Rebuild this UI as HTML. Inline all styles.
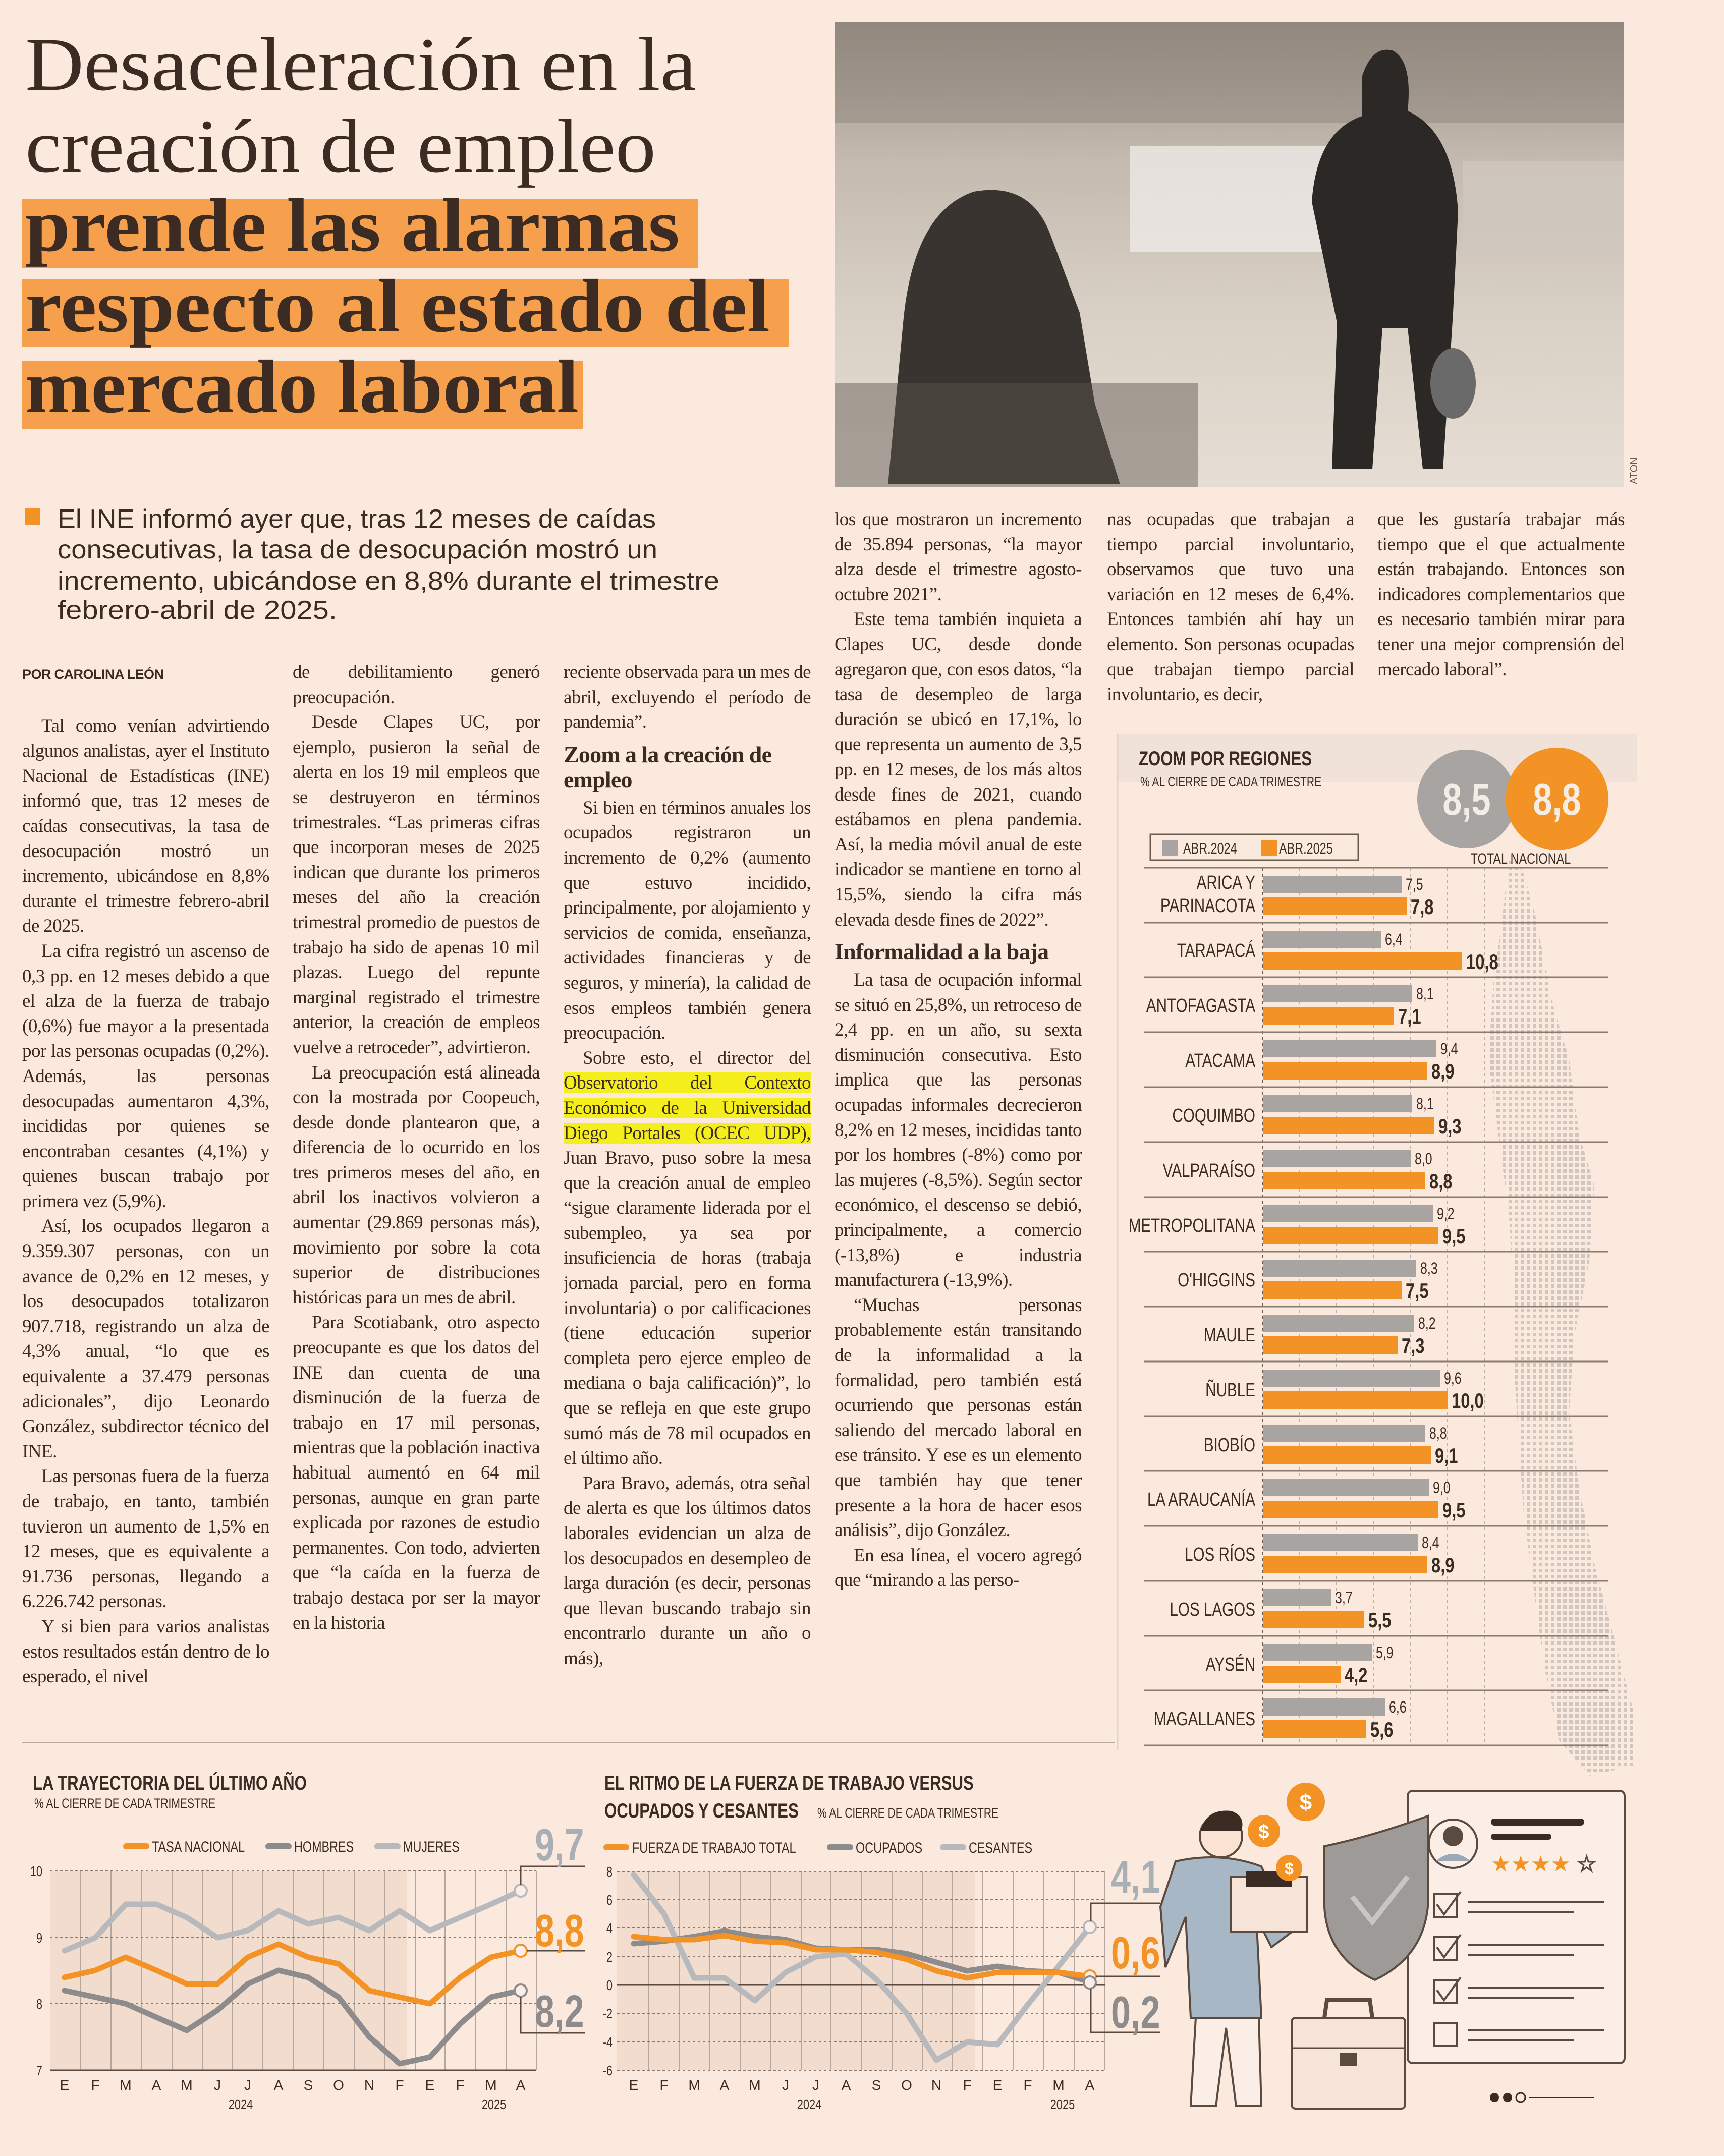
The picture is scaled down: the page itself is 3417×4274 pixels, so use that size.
<!DOCTYPE html>
<html lang="es"><head><meta charset="utf-8">
<style>
html,body{margin:0;padding:0;}
body{width:3417px;height:4274px;position:relative;background:#fce9dd;overflow:hidden;font-family:"Liberation Serif",serif;color:#3a2a22;}
svg.page{position:absolute;left:0;top:0;}
.col{position:absolute;width:490px;font-family:"Liberation Serif",serif;font-size:37px;line-height:49.6px;text-align:justify;color:#3a2a22;overflow:hidden;letter-spacing:-0.5px;word-spacing:-0.5px;hyphens:auto;-webkit-hyphens:auto;}
.col p{margin:0;text-indent:38px;}
.col p.ni{text-indent:0;}
.col h3{margin:14px 0 6px 0;font-size:46px;line-height:50px;font-weight:bold;text-align:left;letter-spacing:-0.8px;}
.by{font-family:"Liberation Sans",sans-serif;font-weight:bold;font-size:27px;letter-spacing:-0.5px;}
.hl{background:#f4ef1c;}
.cl{transform-box:fill-box;transform-origin:left center;transform:scaleX(.78);}
.cr{transform-box:fill-box;transform-origin:right center;transform:scaleX(.78);}
.cc{transform-box:fill-box;transform-origin:center;transform:scaleX(.78);}
</style></head><body>
<svg class="page" width="3417" height="4274" viewBox="0 0 3417 4274" xmlns="http://www.w3.org/2000/svg">
<defs>
<linearGradient id="ph" x1="0" y1="0" x2="0" y2="1">
<stop offset="0" stop-color="#9c9288"/><stop offset=".3" stop-color="#c4bab0"/><stop offset=".6" stop-color="#d8cfc4"/><stop offset="1" stop-color="#e6ded4"/></linearGradient>
<pattern id="dots" width="12" height="12" patternUnits="userSpaceOnUse"><rect x="2" y="2" width="7" height="7" fill="#cfc6c0"/></pattern>
</defs>
<rect x="44" y="394" width="1340" height="137" fill="#f6a04d"/>
<rect x="44" y="554" width="1519" height="134" fill="#f6a04d"/>
<rect x="44" y="715" width="1112" height="135" fill="#f6a04d"/>
<g font-family="Liberation Serif, serif" fill="#3b2b22" font-size="150">
<text x="50" y="178" textLength="1330" lengthAdjust="spacingAndGlyphs">Desaceleración en la</text>
<text x="50" y="340" textLength="1250" lengthAdjust="spacingAndGlyphs">creación de empleo</text>
<text x="50" y="497" font-weight="bold" textLength="1297" lengthAdjust="spacingAndGlyphs">prende las alarmas</text>
<text x="50" y="657" font-weight="bold" textLength="1476" lengthAdjust="spacingAndGlyphs">respecto al estado del</text>
<text x="50" y="817" font-weight="bold" textLength="1097" lengthAdjust="spacingAndGlyphs">mercado laboral</text>
</g>
<rect x="50" y="1008" width="30" height="32" fill="#f39325"/>
<g font-family="Liberation Sans, sans-serif" fill="#3b2b22" font-size="52">
<text x="114" y="1046" textLength="1186" lengthAdjust="spacingAndGlyphs">El INE informó ayer que, tras 12 meses de caídas</text>
<text x="114" y="1107" textLength="1189" lengthAdjust="spacingAndGlyphs">consecutivas, la tasa de desocupación mostró un</text>
<text x="114" y="1169" textLength="1312" lengthAdjust="spacingAndGlyphs">incremento, ubicándose en 8,8% durante el trimestre</text>
<text x="114" y="1227" textLength="554" lengthAdjust="spacingAndGlyphs">febrero-abril de 2025.</text>
</g>
<rect x="1654" y="44" width="1564" height="921" fill="url(#ph)"/>
<rect x="1654" y="44" width="1564" height="200" fill="#7e766e" opacity=".35"/>
<rect x="2240" y="290" width="420" height="210" fill="#eeeae6" opacity=".8"/>
<rect x="2900" y="320" width="318" height="180" fill="#cfc7be" opacity=".8"/>
<path d="M1760 960 L1790 640 Q1810 420 1930 380 Q2040 360 2080 460 L2140 620 L2170 800 L2220 960 Z" fill="#3a3430"/>
<rect x="1654" y="760" width="720" height="205" fill="#5a544e" opacity=".45"/>
<path d="M2640 930 L2650 640 L2600 400 Q2610 260 2700 230 L2700 150 Q2720 90 2760 100 Q2800 120 2790 220 Q2880 260 2890 420 L2880 620 L2860 930 L2820 930 L2790 650 L2740 650 L2720 930 Z" fill="#2b2826"/>
<ellipse cx="2880" cy="760" rx="45" ry="70" fill="#6a6a6a"/>
<text x="3245" y="960" font-family="Liberation Sans, sans-serif" font-size="20" fill="#6a5c52" transform="rotate(-90 3245 960)">ATON</text>
<line x1="44" y1="3455" x2="2210" y2="3455" stroke="#b9aaa0" stroke-width="2"/>
<rect x="2215" y="1455" width="1030" height="95" fill="#f0e2d8"/>
<line x1="2215" y1="1455" x2="2215" y2="3470" stroke="#e2d3c9" stroke-width="3"/>
<polygon points="2990,1700 3010,1700 3040,1800 3060,1900 3080,2000 3110,2100 3130,2250 3160,2350 3150,2500 3120,2650 3110,2800 3130,2950 3160,3100 3200,3250 3240,3400 3240,3500 3150,3520 3090,3450 3060,3300 3040,3150 3020,3000 3010,2850 3000,2700 3000,2550 2990,2400 2970,2250 2950,2100 2960,1950 2980,1800" fill="url(#dots)"/>
<g font-family="Liberation Sans, sans-serif" fill="#3b2b22">
<text x="2257" y="1517" font-size="40" font-weight="bold" class="cl">ZOOM POR REGIONES</text>
<text x="2260" y="1559" font-size="27" class="cl">% AL CIERRE DE CADA TRIMESTRE</text>
</g>
<circle cx="2907" cy="1584" r="98" fill="#a8a4a1"/>
<circle cx="3086" cy="1584" r="102" fill="#f39325"/>
<g font-family="Liberation Sans, sans-serif" font-weight="bold" fill="#f4ede6" font-size="88" text-anchor="middle">
<text x="2907" y="1615" class="cc">8,5</text><text x="3086" y="1615" class="cc">8,8</text></g>
<text x="3014" y="1712" font-family="Liberation Sans, sans-serif" font-size="30" fill="#3b2b22" text-anchor="middle" class="cc">TOTAL NACIONAL</text>
<rect x="2280" y="1654" width="412" height="51" fill="none" stroke="#6c5d53" stroke-width="3"/>
<rect x="2303" y="1665" width="32" height="32" fill="#a8a4a1"/>
<rect x="2500" y="1665" width="32" height="32" fill="#f39325"/>
<g font-family="Liberation Sans, sans-serif" font-size="30" fill="#3b2b22"><text x="2345" y="1692" class="cl">ABR.2024</text><text x="2535" y="1692" class="cl">ABR.2025</text></g>
<g stroke="#bdb1a8" stroke-width="2" stroke-dasharray="6,6">
<line x1="2576" y1="1720" x2="2576" y2="3460"/><line x1="2649" y1="1720" x2="2649" y2="3460"/><line x1="2722" y1="1720" x2="2722" y2="3460"/><line x1="2796" y1="1720" x2="2796" y2="3460"/><line x1="2869" y1="1720" x2="2869" y2="3460"/><line x1="2942" y1="1720" x2="2942" y2="3460"/>
</g>
<line x1="2503" y1="1720" x2="2503" y2="3460" stroke="#6c5d53" stroke-width="2" stroke-dasharray="6,6"/>
<g stroke="#8a7a70" stroke-width="3">
<line x1="2267" y1="1720" x2="3188" y2="1720"/><line x1="2267" y1="1829" x2="3188" y2="1829"/><line x1="2267" y1="1937" x2="3188" y2="1937"/><line x1="2267" y1="2046" x2="3188" y2="2046"/><line x1="2267" y1="2155" x2="3188" y2="2155"/><line x1="2267" y1="2264" x2="3188" y2="2264"/><line x1="2267" y1="2373" x2="3188" y2="2373"/><line x1="2267" y1="2481" x2="3188" y2="2481"/><line x1="2267" y1="2590" x2="3188" y2="2590"/><line x1="2267" y1="2699" x2="3188" y2="2699"/><line x1="2267" y1="2808" x2="3188" y2="2808"/><line x1="2267" y1="2916" x2="3188" y2="2916"/><line x1="2267" y1="3025" x2="3188" y2="3025"/><line x1="2267" y1="3134" x2="3188" y2="3134"/><line x1="2267" y1="3243" x2="3188" y2="3243"/><line x1="2267" y1="3351" x2="3188" y2="3351"/><line x1="2267" y1="3460" x2="3188" y2="3460"/>
</g>
<g font-family="Liberation Sans, sans-serif" fill="#3b2b22">
<g><rect x="2503" y="1736" width="275" height="34" fill="#a8a4a1"/><rect x="2503" y="1779" width="285" height="35" fill="#f39325"/>
<text x="2488" y="1762" font-size="38" text-anchor="end" class="cr">ARICA Y</text><text x="2488" y="1808" font-size="38" text-anchor="end" class="cr">PARINACOTA</text>
<text x="2786" y="1764" font-size="32" class="cl">7,5</text><text x="2796" y="1812" font-size="42" font-weight="bold" class="cl">7,8</text></g>
<g><rect x="2503" y="1845" width="234" height="34" fill="#a8a4a1"/><rect x="2503" y="1888" width="395" height="35" fill="#f39325"/>
<text x="2488" y="1897" font-size="38" text-anchor="end" class="cr">TARAPACÁ</text>
<text x="2745" y="1873" font-size="32" class="cl">6,4</text><text x="2906" y="1921" font-size="42" font-weight="bold" class="cl">10,8</text></g>
<g><rect x="2503" y="1953" width="296" height="34" fill="#a8a4a1"/><rect x="2503" y="1996" width="260" height="35" fill="#f39325"/>
<text x="2488" y="2006" font-size="38" text-anchor="end" class="cr">ANTOFAGASTA</text>
<text x="2807" y="1981" font-size="32" class="cl">8,1</text><text x="2771" y="2029" font-size="42" font-weight="bold" class="cl">7,1</text></g>
<g><rect x="2503" y="2062" width="344" height="34" fill="#a8a4a1"/><rect x="2503" y="2105" width="326" height="35" fill="#f39325"/>
<text x="2488" y="2115" font-size="38" text-anchor="end" class="cr">ATACAMA</text>
<text x="2855" y="2090" font-size="32" class="cl">9,4</text><text x="2837" y="2138" font-size="42" font-weight="bold" class="cl">8,9</text></g>
<g><rect x="2503" y="2171" width="296" height="34" fill="#a8a4a1"/><rect x="2503" y="2214" width="340" height="35" fill="#f39325"/>
<text x="2488" y="2224" font-size="38" text-anchor="end" class="cr">COQUIMBO</text>
<text x="2807" y="2199" font-size="32" class="cl">8,1</text><text x="2851" y="2247" font-size="42" font-weight="bold" class="cl">9,3</text></g>
<g><rect x="2503" y="2280" width="293" height="34" fill="#a8a4a1"/><rect x="2503" y="2323" width="322" height="35" fill="#f39325"/>
<text x="2488" y="2333" font-size="38" text-anchor="end" class="cr">VALPARAÍSO</text>
<text x="2804" y="2308" font-size="32" class="cl">8,0</text><text x="2833" y="2356" font-size="42" font-weight="bold" class="cl">8,8</text></g>
<g><rect x="2503" y="2389" width="337" height="34" fill="#a8a4a1"/><rect x="2503" y="2432" width="348" height="35" fill="#f39325"/>
<text x="2488" y="2442" font-size="38" text-anchor="end" class="cr">METROPOLITANA</text>
<text x="2848" y="2417" font-size="32" class="cl">9,2</text><text x="2859" y="2465" font-size="42" font-weight="bold" class="cl">9,5</text></g>
<g><rect x="2503" y="2497" width="304" height="34" fill="#a8a4a1"/><rect x="2503" y="2540" width="275" height="35" fill="#f39325"/>
<text x="2488" y="2550" font-size="38" text-anchor="end" class="cr">O'HIGGINS</text>
<text x="2815" y="2525" font-size="32" class="cl">8,3</text><text x="2786" y="2573" font-size="42" font-weight="bold" class="cl">7,5</text></g>
<g><rect x="2503" y="2606" width="300" height="34" fill="#a8a4a1"/><rect x="2503" y="2649" width="267" height="35" fill="#f39325"/>
<text x="2488" y="2659" font-size="38" text-anchor="end" class="cr">MAULE</text>
<text x="2811" y="2634" font-size="32" class="cl">8,2</text><text x="2778" y="2682" font-size="42" font-weight="bold" class="cl">7,3</text></g>
<g><rect x="2503" y="2715" width="351" height="34" fill="#a8a4a1"/><rect x="2503" y="2758" width="366" height="35" fill="#f39325"/>
<text x="2488" y="2768" font-size="38" text-anchor="end" class="cr">ÑUBLE</text>
<text x="2862" y="2743" font-size="32" class="cl">9,6</text><text x="2877" y="2791" font-size="42" font-weight="bold" class="cl">10,0</text></g>
<g><rect x="2503" y="2824" width="322" height="34" fill="#a8a4a1"/><rect x="2503" y="2867" width="333" height="35" fill="#f39325"/>
<text x="2488" y="2877" font-size="38" text-anchor="end" class="cr">BIOBÍO</text>
<text x="2833" y="2852" font-size="32" class="cl">8,8</text><text x="2844" y="2900" font-size="42" font-weight="bold" class="cl">9,1</text></g>
<g><rect x="2503" y="2932" width="329" height="34" fill="#a8a4a1"/><rect x="2503" y="2975" width="348" height="35" fill="#f39325"/>
<text x="2488" y="2985" font-size="38" text-anchor="end" class="cr">LA ARAUCANÍA</text>
<text x="2840" y="2960" font-size="32" class="cl">9,0</text><text x="2859" y="3008" font-size="42" font-weight="bold" class="cl">9,5</text></g>
<g><rect x="2503" y="3041" width="307" height="34" fill="#a8a4a1"/><rect x="2503" y="3084" width="326" height="35" fill="#f39325"/>
<text x="2488" y="3094" font-size="38" text-anchor="end" class="cr">LOS RÍOS</text>
<text x="2818" y="3069" font-size="32" class="cl">8,4</text><text x="2837" y="3117" font-size="42" font-weight="bold" class="cl">8,9</text></g>
<g><rect x="2503" y="3150" width="135" height="34" fill="#a8a4a1"/><rect x="2503" y="3193" width="201" height="35" fill="#f39325"/>
<text x="2488" y="3203" font-size="38" text-anchor="end" class="cr">LOS LAGOS</text>
<text x="2646" y="3178" font-size="32" class="cl">3,7</text><text x="2712" y="3226" font-size="42" font-weight="bold" class="cl">5,5</text></g>
<g><rect x="2503" y="3259" width="216" height="34" fill="#a8a4a1"/><rect x="2503" y="3302" width="154" height="35" fill="#f39325"/>
<text x="2488" y="3312" font-size="38" text-anchor="end" class="cr">AYSÉN</text>
<text x="2727" y="3287" font-size="32" class="cl">5,9</text><text x="2665" y="3335" font-size="42" font-weight="bold" class="cl">4,2</text></g>
<g><rect x="2503" y="3367" width="242" height="34" fill="#a8a4a1"/><rect x="2503" y="3410" width="205" height="35" fill="#f39325"/>
<text x="2488" y="3420" font-size="38" text-anchor="end" class="cr">MAGALLANES</text>
<text x="2753" y="3395" font-size="32" class="cl">6,6</text><text x="2716" y="3443" font-size="42" font-weight="bold" class="cl">5,6</text></g>
</g>

<g font-family="Liberation Sans, sans-serif" fill="#3b2b22">
<text x="65" y="3548" font-size="40" font-weight="bold" class="cl">LA TRAYECTORIA DEL ÚLTIMO AÑO</text>
<text x="68" y="3584" font-size="27" class="cl">% AL CIERRE DE CADA TRIMESTRE</text>
<line x1="250" y1="3660" x2="290" y2="3660" stroke="#f39325" stroke-width="12" stroke-linecap="round"/>
<text x="301" y="3671" font-size="30" class="cl">TASA NACIONAL</text>
<line x1="532" y1="3660" x2="572" y2="3660" stroke="#8d8b8b" stroke-width="12" stroke-linecap="round"/>
<text x="583" y="3671" font-size="30" class="cl">HOMBRES</text>
<line x1="748" y1="3660" x2="788" y2="3660" stroke="#b7b9bc" stroke-width="12" stroke-linecap="round"/>
<text x="799" y="3671" font-size="30" class="cl">MUJERES</text>
</g>
<rect x="99" y="3709" width="708" height="395" fill="#f2dccd"/>
<g stroke="#b5a79e" stroke-width="2">
<line x1="159" y1="3709" x2="159" y2="4104"/><line x1="220" y1="3709" x2="220" y2="4104"/><line x1="281" y1="3709" x2="281" y2="4104"/><line x1="341" y1="3709" x2="341" y2="4104"/><line x1="401" y1="3709" x2="401" y2="4104"/><line x1="461" y1="3709" x2="461" y2="4104"/><line x1="521" y1="3709" x2="521" y2="4104"/><line x1="582" y1="3709" x2="582" y2="4104"/><line x1="642" y1="3709" x2="642" y2="4104"/><line x1="702" y1="3709" x2="702" y2="4104"/><line x1="763" y1="3709" x2="763" y2="4104"/><line x1="823" y1="3709" x2="823" y2="4104"/><line x1="882" y1="3709" x2="882" y2="4104"/><line x1="942" y1="3709" x2="942" y2="4104"/><line x1="1003" y1="3709" x2="1003" y2="4104"/><line x1="1063" y1="3709" x2="1063" y2="4104"/>
</g>
<g stroke="#8a7a70" stroke-width="2" stroke-dasharray="5,5">
<line x1="99" y1="3709" x2="1063" y2="3709"/><line x1="99" y1="3841" x2="1063" y2="3841"/><line x1="99" y1="3972" x2="1063" y2="3972"/></g>
<line x1="99" y1="4104" x2="1063" y2="4104" stroke="#5a4a40" stroke-width="3"/>
<g fill="none" stroke-width="11" stroke-linejoin="round" stroke-linecap="round">
<polyline stroke="#b7b9bc" points="128,3867 189,3841 249,3775 310,3775 370,3801 431,3841 491,3827 552,3788 611,3814 671,3801 732,3827 792,3788 852,3827 912,3801 973,3775 1032,3748"/>
<polyline stroke="#f39325" points="128,3920 189,3906 249,3880 310,3906 370,3933 431,3933 491,3880 552,3854 611,3880 671,3893 732,3946 792,3959 852,3972 912,3920 973,3880 1032,3867"/>
<polyline stroke="#8d8b8b" points="128,3946 189,3959 249,3972 310,3999 370,4025 431,3985 491,3933 552,3906 611,3920 671,3959 732,4038 792,4091 852,4078 912,4012 973,3959 1032,3946"/>
</g>
<g fill="#fbeee6" stroke-width="4"><circle cx="1032" cy="3748" r="12" stroke="#b7b9bc"/><circle cx="1032" cy="3867" r="12" stroke="#f39325"/><circle cx="1032" cy="3946" r="12" stroke="#8d8b8b"/></g>
<g fill="none" stroke="#5a4a40" stroke-width="3"><polyline points="1032,3736 1032,3700 1160,3700"/><polyline points="1044,3867 1160,3867"/><polyline points="1032,3958 1032,4030 1160,4030"/></g>
<g font-family="Liberation Sans, sans-serif" font-weight="bold" font-size="90">
<text x="1060" y="3688" fill="#a9b0b5" class="cl">9,7</text>
<text x="1060" y="3858" fill="#f39325" class="cl">8,8</text>
<text x="1060" y="4018" fill="#8d8b8b" class="cl">8,2</text></g>
<g font-family="Liberation Sans, sans-serif" font-size="28" fill="#3b2b22">
<text x="84" y="3719" text-anchor="end" class="cr">10</text><text x="84" y="3851" text-anchor="end" class="cr">9</text><text x="84" y="3982" text-anchor="end" class="cr">8</text><text x="84" y="4114" text-anchor="end" class="cr">7</text>
<g text-anchor="middle"><text x="128" y="4143">E</text><text x="189" y="4143">F</text><text x="249" y="4143">M</text><text x="310" y="4143">A</text><text x="370" y="4143">M</text><text x="431" y="4143">J</text><text x="491" y="4143">J</text><text x="552" y="4143">A</text><text x="611" y="4143">S</text><text x="671" y="4143">O</text><text x="732" y="4143">N</text><text x="792" y="4143">F</text><text x="852" y="4143">E</text><text x="912" y="4143">F</text><text x="973" y="4143">M</text><text x="1032" y="4143">A</text>
<text x="477" y="4181" class="cc">2024</text><text x="979" y="4181" class="cc">2025</text></g>
</g>

<g font-family="Liberation Sans, sans-serif" fill="#3b2b22">
<text x="1198" y="3548" font-size="40" font-weight="bold" class="cl">EL RITMO DE LA FUERZA DE TRABAJO VERSUS</text>
<text x="1198" y="3603" font-size="40" font-weight="bold" class="cl">OCUPADOS Y CESANTES</text>
<text x="1620" y="3603" font-size="27" class="cl">% AL CIERRE DE CADA TRIMESTRE</text>
<line x1="1202" y1="3662" x2="1241" y2="3662" stroke="#f39325" stroke-width="12" stroke-linecap="round"/>
<text x="1253" y="3673" font-size="30" class="cl">FUERZA DE TRABAJO TOTAL</text>
<line x1="1645" y1="3662" x2="1685" y2="3662" stroke="#8d8b8b" stroke-width="12" stroke-linecap="round"/>
<text x="1696" y="3673" font-size="30" class="cl">OCUPADOS</text>
<line x1="1869" y1="3662" x2="1909" y2="3662" stroke="#b7b9bc" stroke-width="12" stroke-linecap="round"/>
<text x="1920" y="3673" font-size="30" class="cl">CESANTES</text>
</g>
<rect x="1223" y="3710" width="710" height="394" fill="#f2dccd"/>
<g stroke="#b5a79e" stroke-width="2">
<line x1="1286" y1="3710" x2="1286" y2="4104"/><line x1="1347" y1="3710" x2="1347" y2="4104"/><line x1="1407" y1="3710" x2="1407" y2="4104"/><line x1="1467" y1="3710" x2="1467" y2="4104"/><line x1="1528" y1="3710" x2="1528" y2="4104"/><line x1="1588" y1="3710" x2="1588" y2="4104"/><line x1="1647" y1="3710" x2="1647" y2="4104"/><line x1="1707" y1="3710" x2="1707" y2="4104"/><line x1="1768" y1="3710" x2="1768" y2="4104"/><line x1="1828" y1="3710" x2="1828" y2="4104"/><line x1="1888" y1="3710" x2="1888" y2="4104"/><line x1="1948" y1="3710" x2="1948" y2="4104"/><line x1="2008" y1="3710" x2="2008" y2="4104"/><line x1="2068" y1="3710" x2="2068" y2="4104"/><line x1="2129" y1="3710" x2="2129" y2="4104"/><line x1="2190" y1="3710" x2="2190" y2="4104"/>
</g>
<g stroke="#8a7a70" stroke-width="2" stroke-dasharray="5,5">
<line x1="1223" y1="3710" x2="2190" y2="3710"/><line x1="1223" y1="3766" x2="2190" y2="3766"/><line x1="1223" y1="3822" x2="2190" y2="3822"/><line x1="1223" y1="3879" x2="2190" y2="3879"/><line x1="1223" y1="3991" x2="2190" y2="3991"/><line x1="1223" y1="4048" x2="2190" y2="4048"/><line x1="1223" y1="4104" x2="2190" y2="4104"/></g>
<line x1="1223" y1="3935" x2="2190" y2="3935" stroke="#5a4a40" stroke-width="3"/>
<g fill="none" stroke-width="11" stroke-linejoin="round" stroke-linecap="round">
<polyline stroke="#b7b9bc" points="1256,3716 1316,3794 1376,3921 1436,3921 1496,3966 1557,3910 1617,3879 1677,3873 1737,3924 1797,3991 1856,4084 1917,4048 1977,4053 2037,3974 2098,3898 2160,3820"/>
<polyline stroke="#8d8b8b" points="1256,3853 1316,3848 1376,3839 1436,3828 1496,3839 1557,3845 1617,3862 1677,3865 1737,3865 1797,3873 1856,3890 1917,3907 1977,3898 2037,3907 2098,3910 2160,3929"/>
<polyline stroke="#f39325" points="1256,3839 1316,3845 1376,3845 1436,3837 1496,3848 1557,3851 1617,3865 1677,3865 1737,3870 1797,3884 1856,3907 1917,3921 1977,3910 2037,3910 2098,3910 2160,3918"/>
</g>
<g fill="#fbeee6" stroke-width="4"><circle cx="2160" cy="3820" r="12" stroke="#b7b9bc"/><circle cx="2160" cy="3918" r="12" stroke="#f39325"/><circle cx="2160" cy="3930" r="12" stroke="#8d8b8b"/></g>
<g fill="none" stroke="#5a4a40" stroke-width="3"><polyline points="2162,3808 2162,3773 2300,3773"/><polyline points="2172,3918 2300,3918"/><polyline points="2162,3942 2162,4029 2300,4029"/></g>
<g font-family="Liberation Sans, sans-serif" font-weight="bold" font-size="90">
<text x="2202" y="3752" fill="#a9b0b5" class="cl">4,1</text>
<text x="2202" y="3902" fill="#f39325" class="cl">0,6</text>
<text x="2202" y="4020" fill="#8d8b8b" class="cl">0,2</text></g>
<g font-family="Liberation Sans, sans-serif" font-size="28" fill="#3b2b22">
<g text-anchor="end"><text x="1214" y="3720" class="cr">8</text><text x="1214" y="3776" class="cr">6</text><text x="1214" y="3832" class="cr">4</text><text x="1214" y="3889" class="cr">2</text><text x="1214" y="3945" class="cr">0</text><text x="1214" y="4001" class="cr">-2</text><text x="1214" y="4058" class="cr">-4</text><text x="1214" y="4114" class="cr">-6</text></g>
<g text-anchor="middle"><text x="1256" y="4143">E</text><text x="1316" y="4143">F</text><text x="1376" y="4143">M</text><text x="1436" y="4143">A</text><text x="1496" y="4143">M</text><text x="1557" y="4143">J</text><text x="1617" y="4143">J</text><text x="1677" y="4143">A</text><text x="1737" y="4143">S</text><text x="1797" y="4143">O</text><text x="1856" y="4143">N</text><text x="1917" y="4143">F</text><text x="1977" y="4143">E</text><text x="2037" y="4143">F</text><text x="2098" y="4143">M</text><text x="2160" y="4143">A</text>
<text x="1604" y="4181" class="cc">2024</text><text x="2106" y="4181" class="cc">2025</text></g>
</g>

<rect x="2790" y="3550" width="430" height="540" rx="10" fill="#fbeee6" stroke="#5a4a40" stroke-width="4"/>
<circle cx="2880" cy="3655" r="48" fill="#fbeee6" stroke="#5a4a40" stroke-width="4"/>
<circle cx="2880" cy="3640" r="20" fill="#5a4a40"/>
<path d="M2845 3690 Q2880 3660 2915 3690" fill="#9aa9b8"/>
<rect x="2955" y="3605" width="185" height="14" rx="7" fill="#3b2b22"/>
<rect x="2955" y="3635" width="120" height="12" rx="6" fill="#3b2b22"/>
<g fill="#f39325" font-family="DejaVu Sans, sans-serif" font-size="44"><text x="2955" y="3710">★★★★</text><text x="3125" y="3710" fill="none" stroke="#5a4a40" stroke-width="2">☆</text></g>
<g fill="none" stroke="#5a4a40" stroke-width="4">
<rect x="2843" y="3755" width="45" height="45"/><rect x="2843" y="3840" width="45" height="45"/><rect x="2843" y="3925" width="45" height="45"/><rect x="2843" y="4010" width="45" height="45"/>
<polyline points="2848,3775 2862,3795 2895,3750"/><polyline points="2848,3860 2862,3880 2895,3835"/><polyline points="2848,3945 2862,3965 2895,3920"/>
<line x1="2910" y1="3770" x2="3180" y2="3770"/><line x1="2910" y1="3790" x2="3120" y2="3790"/><line x1="2910" y1="3855" x2="3180" y2="3855"/><line x1="2910" y1="3875" x2="3120" y2="3875"/><line x1="2910" y1="3940" x2="3180" y2="3940"/><line x1="2910" y1="3960" x2="3120" y2="3960"/><line x1="2910" y1="4025" x2="3180" y2="4025"/><line x1="2910" y1="4045" x2="3120" y2="4045"/>
</g>
<path d="M2625 3660 Q2720 3640 2830 3600 L2830 3780 Q2820 3880 2725 3925 Q2630 3880 2625 3780 Z" fill="#9e9a98" stroke="#5a4a40" stroke-width="4"/>
<polyline points="2680,3760 2720,3810 2790,3720" fill="none" stroke="#c9c5c2" stroke-width="10"/>
<rect x="2560" y="4000" width="225" height="180" rx="8" fill="#f6e4d8" stroke="#5a4a40" stroke-width="4"/>
<path d="M2625 4000 L2630 3965 L2715 3965 L2720 4000" fill="none" stroke="#5a4a40" stroke-width="8"/>
<line x1="2560" y1="4060" x2="2785" y2="4060" stroke="#5a4a40" stroke-width="3"/>
<rect x="2655" y="4070" width="35" height="25" fill="#5a4a40"/>
<path d="M2330 3690 Q2420 3670 2500 3700 L2560 3830 L2520 3860 L2490 3800 L2500 4000 L2360 4000 L2350 3800 L2310 3900 L2300 3780 Z" fill="#a8b7c6" stroke="#5a4a40" stroke-width="4"/>
<path d="M2370 4000 L2360 4175 L2410 4175 L2430 4020 L2450 4175 L2500 4175 L2495 4000 Z" fill="#fbeee6" stroke="#5a4a40" stroke-width="4"/>
<circle cx="2420" cy="3640" r="42" fill="#fbe3d4" stroke="#5a4a40" stroke-width="4"/>
<path d="M2380 3630 Q2390 3585 2440 3590 Q2470 3600 2460 3630 Z" fill="#3b2b22"/>
<rect x="2440" y="3720" width="150" height="110" fill="#f6e4d8" stroke="#5a4a40" stroke-width="4"/>
<rect x="2470" y="3710" width="90" height="30" fill="#3b2b22"/>
<g font-family="Liberation Sans, sans-serif" font-weight="bold" text-anchor="middle" fill="#fff">
<circle cx="2588" cy="3572" r="38" fill="#f39325"/><text x="2588" y="3588" font-size="44">$</text>
<circle cx="2505" cy="3630" r="32" fill="#f39325"/><text x="2505" y="3644" font-size="38">$</text>
<circle cx="2555" cy="3703" r="26" fill="#f39325"/><text x="2555" y="3715" font-size="32">$</text>
</g>
<circle cx="2962" cy="4158" r="9" fill="#3b2b22"/><circle cx="2988" cy="4158" r="9" fill="#3b2b22"/><circle cx="3014" cy="4158" r="9" fill="none" stroke="#3b2b22" stroke-width="3"/>
<line x1="3030" y1="4158" x2="3160" y2="4158" stroke="#3b2b22" stroke-width="2"/>
</svg>

<div class="col" style="left:44px;top:1313px;height:2080px;">
<p class="ni by">POR CAROLINA LEÓN</p>
<p style="margin-top:52px">Tal como venían advirtiendo algunos analistas, ayer el Instituto Nacional de Estadísticas (INE) informó que, tras 12 meses de caídas consecutivas, la tasa de desocupación mostró un incremento, ubicándose en 8,8% durante el trimestre febrero-abril de 2025.</p>
<p>La cifra registró un ascenso de 0,3 pp. en 12 meses debido a que el alza de la fuerza de trabajo (0,6%) fue mayor a la presentada por las personas ocupadas (0,2%). Además, las personas desocupadas aumentaron 4,3%, incididas por quienes se encontraban cesantes (4,1%) y quienes buscan trabajo por primera vez (5,9%).</p>
<p>Así, los ocupados llegaron a 9.359.307 personas, con un avance de 0,2% en 12 meses, y los desocupados totalizaron 907.718, registrando un alza de 4,3% anual, “lo que es equivalente a 37.479 personas adicionales”, dijo Leonardo González, subdirector técnico del INE.</p>
<p>Las personas fuera de la fuerza de trabajo, en tanto, también tuvieron un aumento de 1,5% en 12 meses, que es equivalente a 91.736 personas, llegando a 6.226.742 personas.</p>
<p>Y si bien para varios analistas estos resultados están dentro de lo esperado, el nivel</p>
</div>
<div class="col" style="left:580px;top:1308px;height:2085px;">
<p class="ni">de debilitamiento generó preocupación.</p>
<p>Desde Clapes UC, por ejemplo, pusieron la señal de alerta en los 19 mil empleos que se destruyeron en términos trimestrales. “Las primeras cifras que incorporan meses de 2025 indican que durante los primeros meses del año la creación trimestral promedio de puestos de trabajo ha sido de apenas 10 mil plazas. Luego del repunte marginal registrado el trimestre anterior, la creación de empleos vuelve a retroceder”, advirtieron.</p>
<p>La preocupación está alineada con la mostrada por Coopeuch, desde donde plantearon que, a diferencia de lo ocurrido en los tres primeros meses del año, en abril los inactivos volvieron a aumentar (29.869 personas más), movimiento por sobre la cota superior de distribuciones históricas para un mes de abril.</p>
<p>Para Scotiabank, otro aspecto preocupante es que los datos del INE dan cuenta de una disminución de la fuerza de trabajo en 17 mil personas, mientras que la población inactiva habitual aumentó en 64 mil personas, aunque en gran parte explicada por razones de estudio permanentes. Con todo, advierten que “la caída en la fuerza de trabajo destaca por ser la mayor en la historia</p>
</div>
<div class="col" style="left:1117px;top:1308px;height:2085px;">
<p class="ni">reciente observada para un mes de abril, excluyendo el período de pandemia”.</p>
<h3>Zoom a la creación de empleo</h3>
<p>Si bien en términos anuales los ocupados registraron un incremento de 0,2% (aumento que estuvo incidido, principalmente, por alojamiento y servicios de comida, enseñanza, actividades financieras y de seguros, y minería), la calidad de esos empleos también genera preocupación.</p>
<p>Sobre esto, el director del <span class="hl">Observatorio del Contexto Económico de la Universidad Diego Portales (OCEC UDP),</span> Juan Bravo, puso sobre la mesa que la creación anual de empleo “sigue claramente liderada por el subempleo, ya sea por insuficiencia de horas (trabaja jornada parcial, pero en forma involuntaria) o por calificaciones (tiene educación superior completa pero ejerce empleo de mediana o baja calificación)”, lo que se refleja en que este grupo sumó más de 78 mil ocupados en el último año.</p>
<p>Para Bravo, además, otra señal de alerta es que los últimos datos laborales evidencian un alza de los desocupados en desempleo de larga duración (es decir, personas que llevan buscando trabajo sin encontrarlo durante un año o más),</p>
</div>
<div class="col" style="left:1654px;top:1005px;height:2388px;">
<p class="ni">los que mostraron un incremento de 35.894 personas, “la mayor alza desde el trimestre agosto-octubre 2021”.</p>
<p>Este tema también inquieta a Clapes UC, desde donde agregaron que, con esos datos, “la tasa de desempleo de larga duración se ubicó en 17,1%, lo que representa un aumento de 3,5 pp. en 12 meses, de los más altos desde fines de 2021, cuando estábamos en plena pandemia. Así, la media móvil anual de este indicador se mantiene en torno al 15,5%, siendo la cifra más elevada desde fines de 2022”.</p>
<h3>Informalidad a la baja</h3>
<p>La tasa de ocupación informal se situó en 25,8%, un retroceso de 2,4 pp. en un año, su sexta disminución consecutiva. Esto implica que las personas ocupadas informales decrecieron 8,2% en 12 meses, incididas tanto por los hombres (-8%) como por las mujeres (-8,5%). Según sector económico, el descenso se debió, principalmente, a comercio (-13,8%) e industria manufacturera (-13,9%).</p>
<p>“Muchas personas probablemente están transitando de la informalidad a la formalidad, pero también está ocurriendo que personas están saliendo del mercado laboral en ese tránsito. Y ese es un elemento que también hay que tener presente a la hora de hacer esos análisis”, dijo González.</p>
<p>En esa línea, el vocero agregó que “mirando a las perso-</p>
</div>
<div class="col" style="left:2194px;top:1005px;height:400px;">
<p class="ni">nas ocupadas que trabajan a tiempo parcial involuntario, observamos que tuvo una variación en 12 meses de 6,4%. Entonces también ahí hay un elemento. Son personas ocupadas que trabajan tiempo parcial involuntario, es decir,</p>
</div>
<div class="col" style="left:2730px;top:1005px;height:400px;">
<p class="ni">que les gustaría trabajar más tiempo que el que actualmente están trabajando. Entonces son indicadores complementarios que es necesario también mirar para tener una mejor comprensión del mercado laboral”.</p>
</div>
</body></html>
